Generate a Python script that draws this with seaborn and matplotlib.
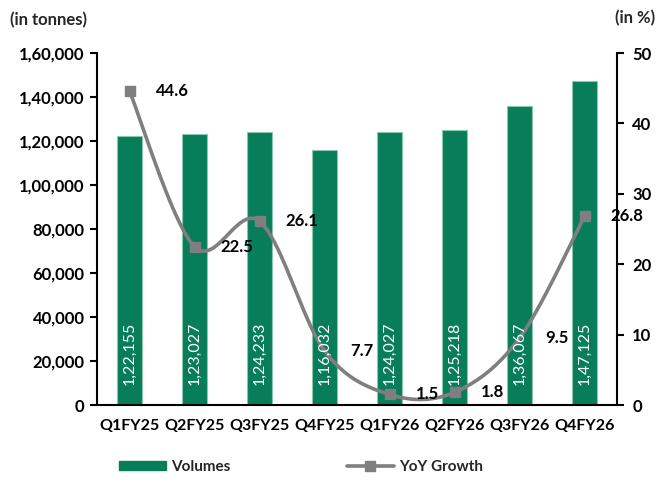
import numpy as np
import pandas as pd
import matplotlib
matplotlib.use("Agg")
import matplotlib.pyplot as plt
import matplotlib.transforms as mtransforms
from matplotlib.lines import Line2D
from matplotlib.patches import Patch
import seaborn as sns

quarters = ["Q1FY25", "Q2FY25", "Q3FY25", "Q4FY25", "Q1FY26", "Q2FY26", "Q3FY26", "Q4FY26"]
volumes = [122155, 123027, 124233, 116032, 124027, 125218, 136067, 147125]
volume_labels = ["1,22,155", "1,23,027", "1,24,233", "1,16,032", "1,24,027", "1,25,218", "1,36,067", "1,47,125"]
growth = [44.6, 22.5, 26.1, 7.7, 1.5, 1.8, 9.5, 26.8]
left_ticks = [0, 20000, 40000, 60000, 80000, 100000, 120000, 140000, 160000]
left_tick_labels = ["0", "20,000", "40,000", "60,000", "80,000", "1,00,000", "1,20,000", "1,40,000", "1,60,000"]
right_ticks = [0, 10, 20, 30, 40, 50]

GREEN = "#077D59"
GRAY = "#7F7F7F"

sns.set_theme(style="white")
plt.rcParams["font.family"] = ["Lato", "DejaVu Sans"]
plt.rcParams["font.weight"] = "bold"

fig = plt.figure(figsize=(6.61, 4.80), dpi=100)
ax = fig.add_axes([97/661, 1-405/480, (617-97)/661, (405-53)/480])

df = pd.DataFrame({"quarter": quarters, "volume": volumes})
sns.barplot(data=df, x="quarter", y="volume", ax=ax, color=GREEN, saturation=1,
            width=0.37, edgecolor="#8cc7ad", linewidth=0.8, zorder=2)
ax.set_xlim(-0.5, len(quarters) - 0.5)
ax.set_ylim(0, 160000)
ax.set_yticks(left_ticks)
ax.set_yticklabels(left_tick_labels, fontsize=12, fontweight="bold")
ax.set_xlabel("")
ax.set_ylabel("")
ax.set_xticks(range(len(quarters)))
ax.set_xticklabels(quarters, fontsize=11.5, fontweight="bold")
ax.set_xticks(np.arange(-0.5, len(quarters)), minor=True)
ax.tick_params(axis="x", which="major", length=0, pad=10, colors="black")
ax.tick_params(axis="x", which="minor", length=6, width=1.5, direction="out", color="black")
ax.tick_params(axis="y", length=5, width=1.5, direction="out", color="black", labelcolor="black", left=True, pad=4)
for s in ["left", "bottom"]:
    ax.spines[s].set_color("black")
    ax.spines[s].set_linewidth(1.5)
for s in ["top", "right"]:
    ax.spines[s].set_visible(False)
ax.grid(False)

ax2 = ax.twinx()
ax2.set_ylim(0, 50)
ax2.set_yticks(right_ticks)
ax2.set_yticklabels([str(t) for t in right_ticks], fontsize=12, fontweight="bold")
ax2.tick_params(axis="y", length=5, width=1.5, direction="out", color="black", labelcolor="black", right=True, pad=6)
for s in ["left", "bottom", "top"]:
    ax2.spines[s].set_visible(False)
ax2.spines["right"].set_color("black")
ax2.spines["right"].set_linewidth(1.5)
ax2.grid(False)

# smoothed curve (Catmull-Rom style bezier, like Excel smoothing)
xs = np.arange(len(growth), dtype=float)
ys = np.array(growth, dtype=float)
P = np.column_stack([xs, ys])
curve = []
t = np.linspace(0, 1, 40)
for k in range(len(P) - 1):
    p0 = P[k - 1] if k > 0 else P[k]
    p1 = P[k]
    p2 = P[k + 1]
    p3 = P[k + 2] if k + 2 < len(P) else P[k + 1]
    c1 = p1 + (p2 - p0) / 6
    c2 = p2 - (p3 - p1) / 6
    seg = ((1 - t)**3)[:, None] * p1 + (3 * (1 - t)**2 * t)[:, None] * c1 + \
          (3 * (1 - t) * t**2)[:, None] * c2 + (t**3)[:, None] * p2
    curve.append(seg if k == 0 else seg[1:])
curve = np.vstack(curve)
cdf = pd.DataFrame({"x": curve[:, 0], "y": curve[:, 1]})
sns.lineplot(data=cdf, x="x", y="y", ax=ax2, sort=False, color=GRAY, linewidth=2.6, zorder=2)
show = [0, 1, 2, 4, 5, 7]
ax2.plot(xs[show], ys[show], linestyle="none", marker="s", markersize=7.5, color=GRAY, zorder=2.5)
ax2.set_xlim(-0.5, len(quarters) - 0.5)
ax2.set_xlabel("")
ax2.set_ylabel("")

# bar labels inside base (drawn on top of the line)
off = mtransforms.offset_copy(ax.transData, fig=fig, y=20, units="dots")
for i, lab in enumerate(volume_labels):
    ax2.text(i, 0, lab, rotation=90, ha="center", va="bottom", color="white",
             fontsize=11.5, fontweight="normal", transform=off, zorder=3)

off2 = mtransforms.offset_copy(ax2.transData, fig=fig, x=26, units="dots")
for i, g in enumerate(growth):
    ax2.text(i, g, f"{g:.1f}", ha="left", va="center", fontsize=12, fontweight="bold",
             color="black", transform=off2, zorder=4)

fig.text(10/661, 1-20/480, "(in tonnes)", fontsize=12, fontweight="bold", ha="left", va="center")
fig.text(655/661, 1-18/480, "(in %)", fontsize=12, fontweight="bold", ha="right", va="center")

handles = [Patch(facecolor=GREEN, edgecolor=GREEN),
           Line2D([0], [0], color=GRAY, linewidth=2.6, marker="s", markersize=7.5)]
fig.legend(handles, ["Volumes", "YoY Growth"], loc="center", bbox_to_anchor=(301/661, 1-467/480),
           ncol=2, frameon=False, handlelength=3.07, handleheight=0.6,
           handletextpad=0.35, columnspacing=7.6, prop={"weight": "bold", "size": 11})

fig.savefig("out.png", dpi=100)
